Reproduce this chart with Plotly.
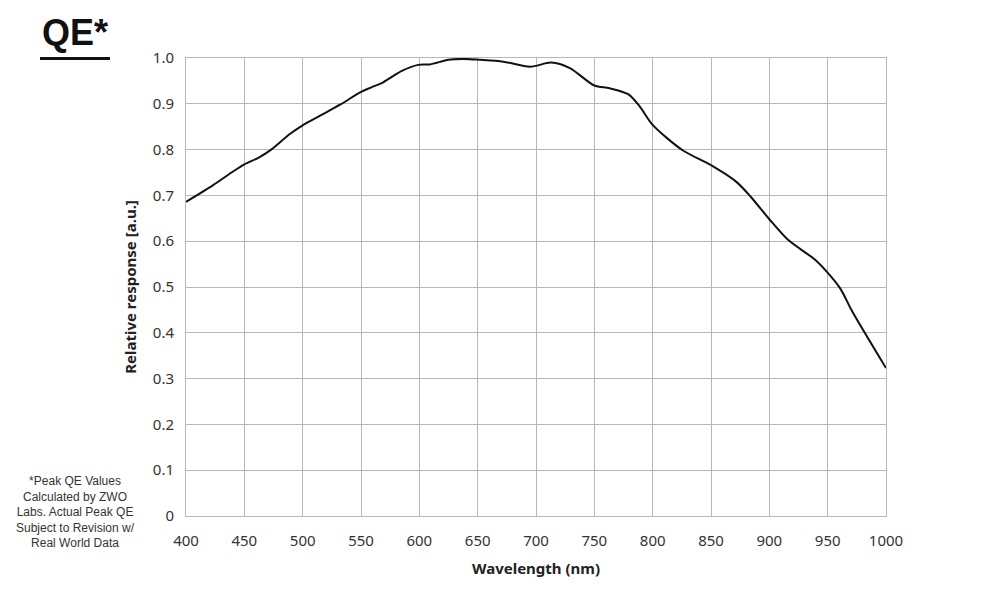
import plotly.graph_objects as go

wavelength = [400, 423, 439, 450, 462, 473, 489, 500, 515, 532, 550, 559, 569, 585, 599,
              609, 625, 638, 652, 672, 695, 713, 729, 750, 763, 779, 789, 800, 826, 850,
              872, 884, 900, 916, 939, 949, 961, 971, 1000]
response = [0.686, 0.722, 0.750, 0.768, 0.782, 0.800, 0.834, 0.853, 0.874, 0.898, 0.926,
            0.936, 0.947, 0.972, 0.985, 0.986, 0.996, 0.998, 0.996, 0.992, 0.981, 0.990,
            0.978, 0.940, 0.934, 0.921, 0.894, 0.854, 0.798, 0.766, 0.729, 0.697, 0.648,
            0.603, 0.560, 0.534, 0.496, 0.447, 0.323]

x_ticks = list(range(400, 1001, 50))
y_ticks = [0, 0.1, 0.2, 0.3, 0.4, 0.5, 0.6, 0.7, 0.8, 0.9, 1.0]
y_labels = ["0", "0.1", "0.2", "0.3", "0.4", "0.5", "0.6", "0.7", "0.8", "0.9", "1.0"]
footnote = ["*Peak QE Values", "Calculated by ZWO", "Labs. Actual Peak QE",
            "Subject to Revision w/", "Real World Data"]

fig = go.Figure()
fig.add_trace(go.Scatter(x=wavelength, y=response, mode="lines",
                         line=dict(color="#111111", width=2, shape="spline", smoothing=0.8),
                         showlegend=False, hoverinfo="skip"))

grid = "#b8b8b8"
fig.update_layout(
    width=1000, height=608,
    margin=dict(l=186, r=114, t=58, b=92),
    paper_bgcolor="white", plot_bgcolor="white",
    font=dict(family="Noto Sans", size=15, color="#333333"),
    xaxis=dict(range=[400, 1000], tickvals=x_ticks, ticks="outside", ticklen=11,
               tickcolor="rgba(0,0,0,0)", showgrid=True,
               gridcolor=grid, gridwidth=1, showline=True, linecolor=grid, mirror=True,
               zeroline=False, tickfont=dict(size=15, color="#333333"),
               title=dict(text="<b>Wavelength (nm)</b>", font=dict(size=15, color="#222222"),
                          standoff=14)),
    yaxis=dict(range=[0, 1.0], tickvals=y_ticks, ticktext=y_labels, ticks="outside", ticklen=8,
               tickcolor="rgba(0,0,0,0)", showgrid=True,
               gridcolor=grid, gridwidth=1, showline=True, linecolor=grid, mirror=True,
               zeroline=False, tickfont=dict(size=15, color="#333333"),
               title=dict(text="<b>Relative response [a.u.]</b>", font=dict(size=15, color="#222222"),
                          standoff=12)),
)

fig.add_annotation(text="<b>QE*</b>", xref="paper", yref="paper",
                   x=(40 - 186) / 700, y=(516 - 55) / 458, xanchor="left", yanchor="bottom",
                   showarrow=False, font=dict(family="Liberation Sans", size=36, color="#111111"))
fig.add_shape(type="line", xref="paper", yref="paper",
              x0=(40 - 186) / 700, x1=(110 - 186) / 700,
              y0=(516 - 58.5) / 458, y1=(516 - 58.5) / 458,
              line=dict(color="#111111", width=3))

fig.add_annotation(text="<br>".join(footnote), xref="paper", yref="paper",
                   x=(75 - 186) / 700, y=(516 - 472) / 458, xanchor="center", yanchor="top",
                   align="center", showarrow=False,
                   font=dict(family="Liberation Sans", size=12, color="#333333"))

fig.write_html("out.html")
